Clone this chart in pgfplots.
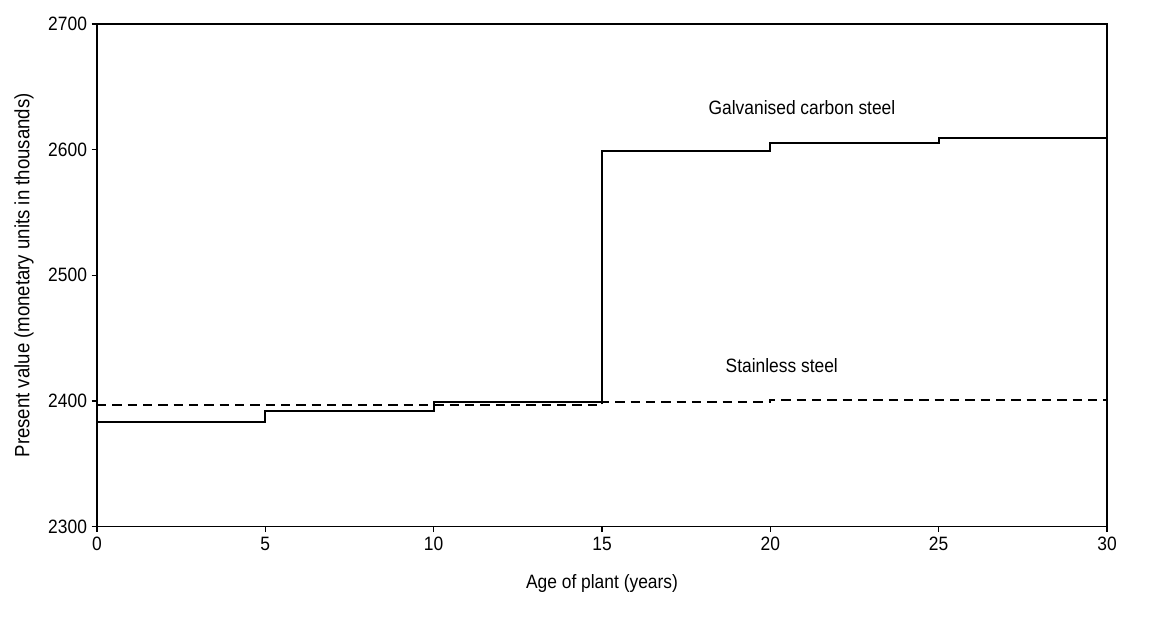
\documentclass[border=0pt]{standalone}
\usepackage{fontspec}
\setmainfont{Liberation Sans}[FakeStretch=0.9]
\usepackage{pgfplots}
\pgfplotsset{compat=1.18}

\begin{document}
\begin{tikzpicture}
  \begin{axis}[
      scale only axis,
      width=757.5pt, height=377pt,
      xmin=0, xmax=30, ymin=2300, ymax=2700,
      xtick={0,5,...,30},
      ytick={2300,2400,...,2700},
      tick align=outside,
      tick style={black, line width=0.8pt},
      major tick length=4pt,
      xtick pos=bottom, ytick pos=left,
      axis line style={line width=0.9pt},
      font=\fontsize{14.5}{16}\selectfont,
      /pgf/number format/assume math mode=true,
      /pgf/number format/set thousands separator={},
      xlabel={Age of plant (years)},
      ylabel={Present value (monetary units in thousands)},
      xlabel style={yshift=-11pt},
      ylabel style={yshift=4pt, font=\fontsize{15.5}{17}\selectfont},
      every tick label/.append style={font=\fontsize{14.5}{16}\selectfont},
      clip=false,
    ]
    % galvanised carbon steel
    \addplot[const plot, black, line width=1.5pt] coordinates {
      (0,2383.5) (5,2392) (10,2399.5) (15,2599) (20,2605.5) (25,2609.5) (30,2609.5)
    };
    % stainless steel
    \addplot[const plot, black, line width=1.5pt, dash pattern=on 7pt off 4.5pt] coordinates {
      (0,2396.5) (15,2399) (20,2401) (30,2401)
    };
    \node at (axis cs:20.94,2633.5) {Galvanised carbon steel};
    \node at (axis cs:20.34,2428) {Stainless steel};
  \end{axis}
  \path[use as bounding box] (-72.75pt,-68.25pt) rectangle (795pt,395pt);
\end{tikzpicture}
\end{document}
